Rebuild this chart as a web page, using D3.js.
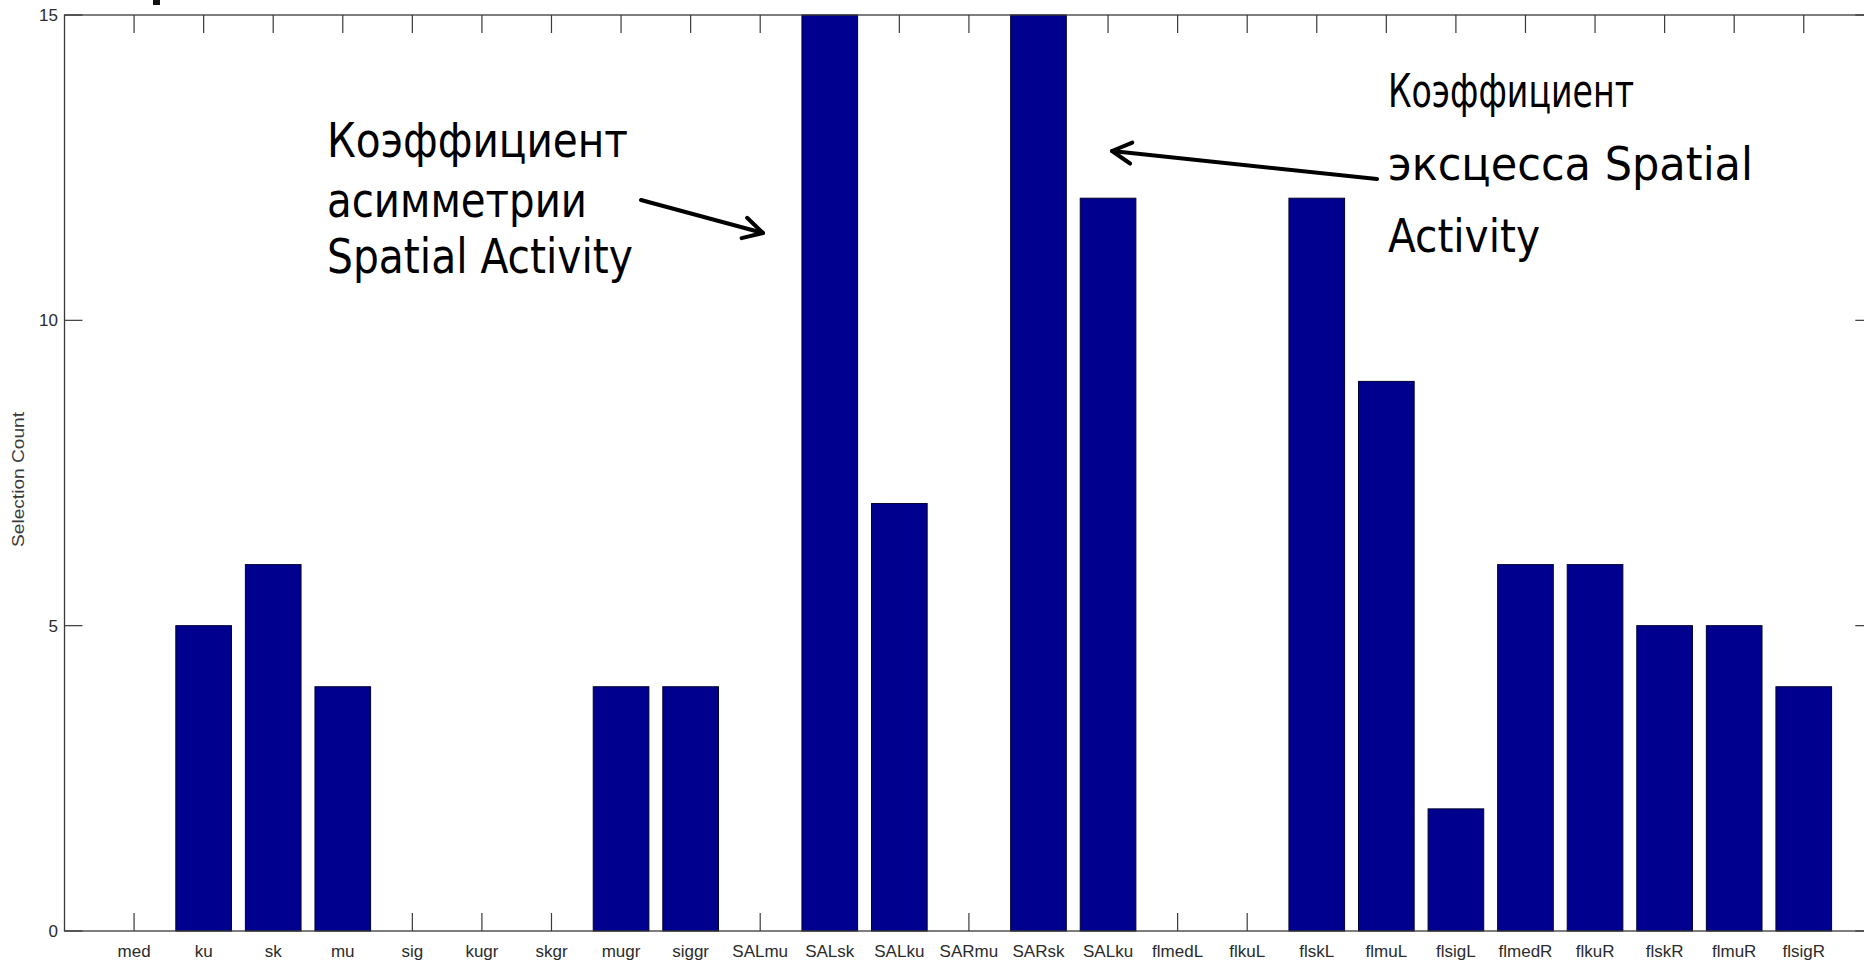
<!DOCTYPE html>
<html>
<head>
<meta charset="utf-8">
<script src="https://cdn.jsdelivr.net/npm/d3@7"></script>
<style>
  html, body { margin: 0; padding: 0; background: #fff; }
  svg { display: block; }
</style>
</head>
<body>
<svg id="chart" width="1864" height="961"></svg>
<script>
// Feature names along the x axis (one bar per feature)
const categories = ["med", "ku", "sk", "mu", "sig", "kugr", "skgr", "mugr", "siggr",
  "SALmu", "SALsk", "SALku", "SARmu", "SARsk", "SALku", "flmedL", "flkuL",
  "flskL", "flmuL", "flsigL", "flmedR", "flkuR", "flskR", "flmuR", "flsigR"];

// How many times each feature was selected
const selectionCounts = [0, 5, 6, 4, 0, 0, 0, 4, 4,
  0, 15, 7, 0, 15, 12, 0, 0,
  12, 9, 2, 6, 6, 5, 5, 4];

const yTicks = [0, 5, 10, 15];
const yLabel = "Selection Count";

// Callout texts
const skewNote = ["Коэффициент", "асимметрии", "Spatial Activity"];
const kurtNote = ["Коэффициент", "эксцесса Spatial", "Activity"];

const plotLeft = 64.5, plotTop = 15, plotBottom = 931;
const svg = d3.select("#chart");

// Axis spans 0..n+1 so the bars sit at integer positions 1..n
const x = d3.scaleLinear().domain([0, categories.length + 1])
  .range([plotLeft, plotLeft + 69.57 * (categories.length + 1)]);
const y = d3.scaleLinear().domain([0, 15]).range([plotBottom, plotTop]);
const plotRight = x(categories.length + 1);
const barW = (x(1) - x(0)) * 0.8;
const tickLen = 18;
const axisColor = "#3a3a3a";
const textColor = "#2b2b2b";

const axes = svg.append("g");

// Inward ticks on all four sides (drawn below the bars)
const idx = d3.range(1, categories.length + 1);
axes.append("g").selectAll("line").data(idx).join("line")
  .attr("x1", d => x(d)).attr("x2", d => x(d))
  .attr("y1", plotBottom).attr("y2", plotBottom - tickLen)
  .attr("stroke", axisColor).attr("stroke-width", 1.2);
axes.append("g").selectAll("line").data(idx).join("line")
  .attr("x1", d => x(d)).attr("x2", d => x(d))
  .attr("y1", plotTop).attr("y2", plotTop + tickLen)
  .attr("stroke", axisColor).attr("stroke-width", 1.2);
axes.append("g").selectAll("line").data(yTicks).join("line")
  .attr("x1", plotLeft).attr("x2", plotLeft + tickLen)
  .attr("y1", d => y(d)).attr("y2", d => y(d))
  .attr("stroke", axisColor).attr("stroke-width", 1.2);
axes.append("g").selectAll("line").data(yTicks).join("line")
  .attr("x1", plotRight - tickLen).attr("x2", plotRight)
  .attr("y1", d => y(d)).attr("y2", d => y(d))
  .attr("stroke", axisColor).attr("stroke-width", 1.2);

// Bars
svg.append("g").selectAll("rect").data(selectionCounts).join("rect")
  .attr("x", (d, i) => x(i + 1) - barW / 2)
  .attr("width", barW)
  .attr("y", d => y(d))
  .attr("height", d => plotBottom - y(d))
  .attr("fill", "#00008f")
  .attr("stroke", "#000033")
  .attr("stroke-width", 1);

// Axes box
svg.append("rect")
  .attr("x", plotLeft).attr("y", plotTop)
  .attr("width", plotRight - plotLeft).attr("height", plotBottom - plotTop)
  .attr("fill", "none").attr("stroke", axisColor).attr("stroke-width", 1.3);

// Tick labels
svg.append("g").selectAll("text").data(categories).join("text")
  .attr("x", (d, i) => x(i + 1))
  .attr("y", 957)
  .attr("text-anchor", "middle")
  .attr("font-family", "Liberation Sans, Arial, sans-serif")
  .attr("font-size", 17)
  .attr("fill", textColor)
  .text(d => d);

svg.append("g").selectAll("text").data(yTicks).join("text")
  .attr("x", 58)
  .attr("y", d => y(d) + 6)
  .attr("text-anchor", "end")
  .attr("font-family", "Liberation Sans, Arial, sans-serif")
  .attr("font-size", 17)
  .attr("fill", textColor)
  .text(d => d);

svg.append("text")
  .attr("transform", `translate(24, ${(412 + 547) / 2}) rotate(-90)`)
  .attr("text-anchor", "middle")
  .attr("font-family", "Liberation Sans, Arial, sans-serif")
  .attr("font-size", 17)
  .attr("textLength", 135)
  .attr("lengthAdjust", "spacingAndGlyphs")
  .attr("fill", "#3a3a3a")
  .text(yLabel);

// Fragment of the slide title above the plot
svg.append("rect").attr("x", 153).attr("y", 0).attr("width", 7).attr("height", 5).attr("fill", "#111");

// Callouts
function callout(lines, x0, baselines, widths, size) {
  const g = svg.append("g");
  lines.forEach((t, i) => {
    g.append("text")
      .attr("x", x0).attr("y", baselines[i])
      .attr("font-family", "DejaVu Sans Condensed, DejaVu Sans, Verdana, sans-serif")
      .attr("font-size", size)
      .attr("textLength", widths[i])
      .attr("lengthAdjust", "spacingAndGlyphs")
      .attr("fill", "#000")
      .text(t);
  });
}
callout(skewNote, 327, [157, 217, 273], [301, 260, 306], 48);
callout(kurtNote, 1388, [107, 180, 252], [246, 365, 152], 47);

function arrow(x1, y1, x2, y2) {
  const ang = Math.atan2(y2 - y1, x2 - x1);
  const L = 22, spread = 0.5;
  const g = svg.append("g").attr("stroke", "#000").attr("stroke-width", 4)
    .attr("fill", "none").attr("stroke-linecap", "round").attr("stroke-linejoin", "round");
  g.append("line").attr("x1", x1).attr("y1", y1).attr("x2", x2).attr("y2", y2);
  g.append("path").attr("d", d3.line()([
    [x2 - L * Math.cos(ang - spread), y2 - L * Math.sin(ang - spread)],
    [x2, y2],
    [x2 - L * Math.cos(ang + spread), y2 - L * Math.sin(ang + spread)]
  ]));
}
arrow(641, 200, 763, 233);
arrow(1377, 179, 1112, 151);
</script>
</body>
</html>
